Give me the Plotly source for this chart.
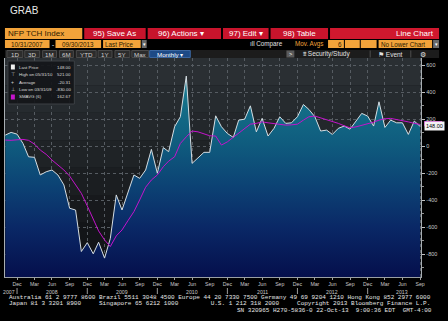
import plotly.graph_objects as go
import pandas as pd

W, H = 448, 321

# ---------------- data ----------------
dates = pd.date_range("2007-10-31", periods=72, freq="ME")
nfp = [83, 103, 90,
       21, -78, -82, -213, -189, -176, -213, -287, -460, -473, -781, -715,
       -798, -712, -830, -684, -361, -473, -340, -213, -238, -176, -23, -200,
       -10, -40, 145, 219, 521, -127, -86, -45, -45, 226, 145, 95,
       66, 194, 201, 300, 107, 207, 76, 133, 219, 170, 174, 219,
       310, 273, 219, 113, 120, 88, 133, 150, 127, 189, 244, 224,
       150, 330, 140, 194, 174, 174, 88, 187, 148]
smavg6 = [46, 44, 48, 51, 44, 16, -28, -60, -102, -139,
          -176, -221, -287, -349, -443, -547, -628, -695, -744, -665,
          -621, -552, -485, -398, -304, -250, -213, -152, -110, -78,
          21, 70, 113, 107, 95, 78, 76, 9, 33, 66,
          100, 133, 164, 170, 181, 174, 170, 164, 157, 159,
          164, 194, 219, 224, 211, 201, 189, 170, 152, 137,
          144, 155, 167, 179, 194, 204, 207, 199, 192, 181,
          170, 162]
y_tick_vals = [600, 400, 200, 0, -200, -400, -600, -800]
y_tick_text = ["600", "400", "200", "0", "-200", "-400", "-600", "-800"]
month_names = {12: "Dec", 3: "Mar", 6: "Jun", 9: "Sep"}
year_labels = ["2008", "2009", "2010", "2011", "2012", "2013"]
first_year_label = "2007"
legend_labels = ["Last Price", "High on 05/31/10", "Average", "Low on 03/31/09", "SMAVG (6)"]
legend_values = ["148.00", "521.00", "-20.31", "-830.00", "162.67"]
last_price_text = "148.00"
last_price = nfp[-1]
last_sma = smavg6[-1]

Y_MIN, Y_MAX = -970, 655
X_RANGE = ["2007-10-29", "2013-10-06"]

# plot area in pixels
PL, PR, PT, PB = 5, 425, 58, 277


def X(px):
    return px / W


def Y(py):
    return 1 - py / H


fig = go.Figure()

# baseline for fill to bottom of plot
fig.add_trace(go.Scatter(x=dates, y=[Y_MIN] * len(dates), mode="lines",
                         line=dict(width=0, color="rgba(0,0,0,0)"),
                         hoverinfo="skip", showlegend=False))
fig.add_trace(go.Scatter(
    x=dates, y=nfp, mode="lines", fill="tonexty",
    line=dict(color="#d5dde2", width=1),
    fillgradient=dict(type="vertical", start=Y_MIN, stop=560,
                      colorscale=[[0.0, "#050f4c"], [0.24, "#0a2866"],
                                  [0.44, "#0c4274"], [0.64, "#0f5b7e"],
                                  [0.84, "#146f88"], [1.0, "#2a8d9f"]]),
    showlegend=False, hoverinfo="skip"))
fig.add_trace(go.Scatter(x=dates, y=smavg6, mode="lines",
                         line=dict(color="#c414cc", width=1),
                         showlegend=False, hoverinfo="skip"))

tick_dates = [d for d in dates if d.month in month_names]
tick_text = [month_names[d.month] for d in tick_dates]

axis_font = dict(family="Liberation Sans, Arial", size=5.2, color="#c8c8c8")
fig.update_layout(
    width=W, height=H,
    margin=dict(l=0, r=0, t=0, b=0),
    paper_bgcolor="#000000",
    plot_bgcolor="#15181b",
    showlegend=False,
    xaxis=dict(domain=[X(PL), X(PR)], type="date", range=X_RANGE,
               tickvals=tick_dates, ticktext=tick_text, tickangle=0,
               tickfont=axis_font, ticks="outside", ticklen=2,
               tickcolor="#a0a0a0", showgrid=True, gridcolor="#565c62",
               griddash="dot", gridwidth=1, showline=True,
               linecolor="#9aa0a4", linewidth=1, zeroline=False,
               fixedrange=True),
    yaxis=dict(domain=[Y(PB), Y(PT)], side="right", range=[Y_MIN, Y_MAX],
               tickvals=y_tick_vals, ticktext=y_tick_text,
               tickfont=dict(family="Liberation Sans, Arial", size=5.5,
                             color="#c8c8c8"),
               ticks="outside", ticklen=3, tickcolor="#c0c0c0",
               minor=dict(dtick=100, ticks="outside", ticklen=2,
                          tickcolor="#909090", showgrid=False),
               showgrid=True, gridcolor="#565c62", griddash="dot",
               showline=True, linecolor="#a8aeb2", mirror=True,
               zeroline=False, fixedrange=True),
)

# plot background vertical shading (bands)
band_cols = ["#2a2f33", "#262b2f", "#23272b", "#1f2326", "#1b1e21",
             "#17191c", "#131518", "#101214"]
n = len(band_cols)
for i, c in enumerate(band_cols):
    y0 = PT + (PB - PT) * i / n
    y1 = PT + (PB - PT) * (i + 1) / n
    fig.add_shape(type="rect", xref="paper", yref="paper",
                  x0=X(PL), x1=X(PR), y0=Y(y1), y1=Y(y0),
                  fillcolor=c, line=dict(width=0), layer="below")


def rect(x0, y0, x1, y1, color, border=None):
    fig.add_shape(type="rect", xref="paper", yref="paper",
                  x0=X(x0), x1=X(x1), y0=Y(y1), y1=Y(y0),
                  fillcolor=color,
                  line=dict(width=1 if border else 0, color=border or color),
                  layer="above")


def text(x, y, s, size=6.5, color="#e8e8e8", anchor="left",
         family="Liberation Sans, Arial", bg=None):
    fig.add_annotation(xref="paper", yref="paper", x=X(x), y=Y(y), text=s,
                       showarrow=False, xanchor=anchor, yanchor="middle",
                       font=dict(family=family, size=size, color=color),
                       bgcolor=bg, borderpad=0)


ORANGE = "#f2a33a"
RED = "#c8142c"

# title
text(9, 10.5, "GRAB", size=10, color="#e6e6e6")

# row 1
rect(5, 28, 83, 39, ORANGE)
text(7, 33.5, "NFP TCH Index", size=8, color="#2a1a00")
rect(85, 28, 147, 39, RED)
text(116, 33.5, "95) Save As", size=8, color="#ffffff", anchor="center")
rect(149, 28, 223, 39, RED)
text(183, 33.5, "96) Actions ▾", size=8, color="#ffffff", anchor="center")
rect(225, 28, 271, 39, RED)
text(248, 33.5, "97) Edit ▾", size=8, color="#ffffff", anchor="center")
rect(273, 28, 331, 39, RED)
text(302, 33.5, "98) Table", size=8, color="#ffffff", anchor="center")
rect(333, 28, 443, 39, "#d0182e")
text(439, 33.5, "Line Chart", size=8, color="#ffffff", anchor="right")

# row 2
rect(5, 40, 50, 48, ORANGE)
text(27.5, 44, "10/31/2007", size=6.3, color="#2a1a00", anchor="center")
text(53, 44, "-", size=6.3, color="#ffffff", anchor="center")
rect(56, 40, 102, 48, ORANGE)
text(79, 44, "09/30/2013", size=6.3, color="#2a1a00", anchor="center")
rect(104, 40, 142, 48, ORANGE)
text(105, 44, "Last Price", size=6.3, color="#2a1a00")
rect(143, 40, 148, 48, "#6a6a6a")
text(145.5, 44, "▾", size=5, color="#ffffff", anchor="center")
text(251, 44, "ıll Compare", size=6.3, color="#e0e0e0")
text(297, 44, "Mov. Avgs", size=6.3, color=ORANGE)
rect(331, 40, 347, 48, ORANGE)
text(343, 44, "6", size=6.3, color="#2a1a00", anchor="center")
rect(348, 40, 363, 48, ORANGE)
rect(364, 40, 380, 48, ORANGE)
rect(382, 40, 436, 48, ORANGE)
text(383, 44, "No Lower Chart", size=6.3, color="#2a1a00")
rect(437, 40, 443, 48, "#6a6a6a")
text(440, 44, "▾", size=5, color="#ffffff", anchor="center")

# row 3
rect(5, 50, 443, 58, "#1c1c1c")
tabs = [("1D", 7, 23), ("3D", 25, 40), ("1M", 43, 57), ("6M", 60, 74),
        ("YTD", 77, 97), ("1Y", 99, 113), ("5Y", 116, 131), ("Max", 133, 150)]
for lab, a, b in tabs:
    rect(a, 50.5, b, 57.5, "#2c2c2c", border="#4a4a4a")
    text((a + b) / 2, 54, lab, size=6.2, color="#cfcfcf", anchor="center")
rect(151, 50.5, 192, 57.5, "#1d4a86", border="#3a66a0")
text(171.5, 54, "Monthly ▾", size=6.2, color="#ffffff", anchor="center")
rect(289, 50.5, 297, 57.5, "#5a5a5a")
text(293, 54, ">", size=5.5, color="#ffffff", anchor="center")
text(305, 54, "⩩ Security/Study", size=6.5, color="#e0e0e0")
rect(373, 50.5, 374, 57.5, "#505050")
text(380, 54, "⚑ Event", size=6.5, color="#e0e0e0")
rect(414, 50.5, 415, 57.5, "#505050")
text(427, 54, "⚙", size=6.5, color="#e0e0e0", anchor="center")

# in-chart legend box
rect(8, 61, 75, 104, "rgba(20,22,25,0.92)", border="#3c4045")
ly = [67, 74.5, 82, 89.5, 97]
rect(11, 64.5, 15, 69.5, "#f0f0f0")
text(13, ly[1], "⊤", size=5, color="#d0d0d0", anchor="center")
text(13, ly[2], "+", size=5, color="#d0d0d0", anchor="center")
text(13, ly[3], "⊥", size=5, color="#d0d0d0", anchor="center")
rect(11, 94.5, 15, 99.5, "#c414cc")
for lab, val, yy in zip(legend_labels, legend_values, ly):
    text(18, yy, lab, size=4.4, color="#dcdcdc")
    text(73, yy, val, size=4.4, color="#dcdcdc", anchor="right")

# right axis value bubbles (SMAVG marker partly hidden behind last price)
fig.add_shape(type="rect", xref="paper", yref="y", x0=X(428), x1=X(446),
              y0=last_price, y1=last_sma + 25, fillcolor="#d020d0",
              line=dict(width=0), layer="above")
fig.add_annotation(xref="paper", yref="y", x=X(428), y=last_price,
                   text=last_price_text, showarrow=False, xanchor="left",
                   yanchor="middle", bgcolor="#f4f4f4",
                   font=dict(family="Liberation Sans, Arial", size=5.5,
                             color="#000000"), borderpad=1)

# year labels under the month ticks
YEAR_Y = 291.5
for d in dates:
    if d.month == 6 and str(d.year) in year_labels:
        fig.add_annotation(xref="x", yref="paper", x=d, y=Y(YEAR_Y),
                           text=str(d.year), showarrow=False,
                           xanchor="center", yanchor="middle",
                           font=axis_font, borderpad=0)
    if d.month == 12:
        fig.add_shape(type="line", xref="x", yref="paper", x0=d, x1=d,
                      y0=Y(294), y1=Y(288),
                      line=dict(color="#9a9a9a", width=1))
text(9, YEAR_Y, first_year_label, size=5.2, color="#c8c8c8", anchor="center")

# footer
NB = "\u00a0"
footer1 = ("Australia 61 2 9777 8600 Brazil 5511 3048 4500 Europe 44 20 7330 7500 "
           "Germany 49 69 9204 1210 Hong Kong 852 2977 6000")
footer2 = ("Japan 81 3 3201 8900" + NB * 5 + "Singapore 65 6212 1000" + NB * 9 +
           "U.S. 1 212 318 2000" + NB * 5 + "Copyright 2013 Bloomberg Finance L.P.")
footer3 = "SN 320965 H270-5836-0 22-Oct-13" + NB * 2 + "9:00:36 EDT" + NB * 2 + "GMT-4:00"
mono = "Liberation Mono, DejaVu Sans Mono, monospace"
text(8, 297.5, footer1.replace(" ", NB), size=6.0, color="#e6e6e6", family=mono)
text(8, 303.8, footer2.replace(" ", NB), size=6.0, color="#e6e6e6", family=mono)
text(437, 310, footer3.replace(" ", NB), size=6.0, color="#e6e6e6",
     family=mono, anchor="right")

fig.write_html("out.html", config={"displayModeBar": False})
